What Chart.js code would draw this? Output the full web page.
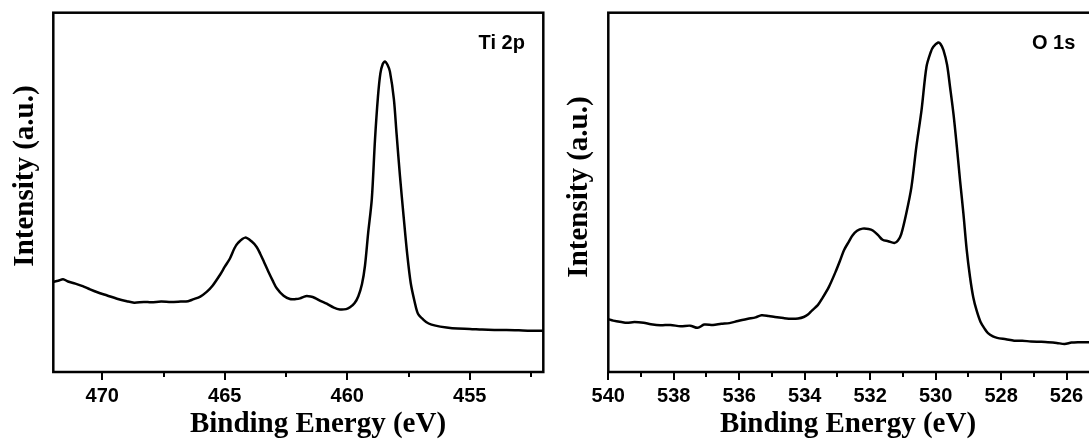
<!DOCTYPE html>
<html>
<head>
<meta charset="utf-8">
<script src="https://cdn.jsdelivr.net/npm/chart.js@4.4.0/dist/chart.umd.min.js"></script>
<style>
  html, body { margin: 0; padding: 0; background: #fff; overflow: hidden; }
  body { width: 1089px; height: 441px; position: relative; }
  .panel { position: absolute; top: 0; height: 441px; }
  #left { left: 0; width: 560px; }
  #right { left: 560px; width: 590px; }
</style>
</head>
<body>
<div class="panel" id="left"><canvas id="tiChart"></canvas></div>
<div class="panel" id="right"><canvas id="oChart"></canvas></div>
<script>
// Ti 2p spectrum (binding energy eV, intensity a.u.)
var tiEnergy = [472.0, 471.8, 471.6, 471.4, 471.1, 470.8, 470.5, 470.2, 469.8, 469.4,
  469.0, 468.7, 468.3, 468.0, 467.6, 467.2, 466.8, 466.5, 466.3, 466.0,
  465.74, 465.5, 465.2, 465.0, 464.79, 464.6, 464.45, 464.17, 463.9, 463.7,
  463.56, 463.4, 463.22, 463.05, 462.88, 462.6, 462.34, 462.1, 461.93, 461.7,
  461.5, 461.32, 461.1, 460.84, 460.55, 460.3, 460.05, 459.89, 459.7, 459.55,
  459.4, 459.28, 459.15, 459.0, 458.87, 458.75, 458.65, 458.55, 458.46, 458.36,
  458.26, 458.1, 457.99, 457.85, 457.7, 457.55, 457.41, 457.25, 457.12, 456.9,
  456.68, 456.4, 455.95, 455.5, 455.0, 454.5, 454.0, 453.5, 453.0, 452.5, 452.0];
var tiIntensity = [25.1, 25.4, 25.8, 25.2, 24.6, 23.9, 23.0, 22.2, 21.3, 20.4,
  19.7, 19.3, 19.5, 19.4, 19.6, 19.5, 19.6, 19.7, 20.2, 21.0,
  22.3, 24.0, 27.0, 29.3, 31.6, 34.5, 36.0, 37.4, 36.3, 34.8,
  33.0, 30.6, 27.9, 25.5, 23.3, 21.2, 20.3, 20.3, 20.5, 21.1,
  21.0, 20.6, 19.8, 19.0, 17.9, 17.4, 17.5, 18.0, 19.2, 21.1,
  24.5, 29.5, 38.6, 48.1, 64.6, 76.5, 83.1, 85.8, 86.4, 85.5,
  83.6, 76.0, 66.4, 54.5, 43.2, 32.5, 24.7, 19.5, 16.3, 14.6,
  13.5, 12.9, 12.4, 12.1, 12.0, 11.8, 11.7, 11.7, 11.6, 11.5, 11.5];

// O 1s spectrum
var oEnergy = [540.0, 539.85, 539.6, 539.43, 539.2, 538.92, 538.7, 538.41, 538.1, 537.79,
  537.5, 537.27, 537.07, 536.8, 536.55, 536.3, 536.04, 535.73, 535.5, 535.32,
  535.1, 534.91, 534.65, 534.39, 534.2, 534.03, 533.9, 533.78, 533.6, 533.47,
  533.26, 533.06, 532.92, 532.8, 532.65, 532.54, 532.4, 532.23, 532.05, 531.92,
  531.75, 531.62, 531.45, 531.26, 531.15, 531.05, 530.9, 530.74, 530.59, 530.43,
  530.28, 530.15, 530.07, 529.92, 529.85, 529.76, 529.65, 529.56, 529.45, 529.35,
  529.25, 529.15, 529.05, 528.95, 528.85, 528.75, 528.63, 528.5, 528.4, 528.25,
  528.12, 527.85, 527.6, 527.35, 527.09, 526.8, 526.57, 526.3, 526.06, 525.85,
  525.65, 525.36, 525.0, 524.5, 524.0];
var oIntensity = [14.7, 14.3, 13.9, 13.7, 13.9, 13.7, 13.3, 13.0, 13.1, 12.7,
  12.9, 12.3, 13.2, 13.1, 13.4, 13.6, 14.2, 14.8, 15.2, 15.8,
  15.6, 15.3, 15.0, 14.8, 14.9, 15.3, 16.0, 17.1, 18.6, 20.4,
  23.7, 27.8, 31.0, 33.9, 36.3, 38.0, 39.3, 39.9, 39.8, 39.4,
  38.0, 36.8, 36.4, 35.9, 36.6, 38.4, 44.0, 51.4, 62.6, 72.9,
  84.9, 89.0, 90.5, 91.7, 91.3, 89.6, 85.5, 79.4, 71.5, 62.6,
  53.0, 44.0, 34.0, 26.5, 20.8, 17.2, 14.0, 12.0, 10.8, 9.9,
  9.5, 9.1, 8.7, 8.7, 8.5, 8.4, 8.3, 8.1, 7.8, 8.2,
  8.3, 8.3, 8.3, 8.2, 8.2];

// tick values
var tiMajorTicks = [455, 460, 465, 470];
var tiMinorTicks = [452.5, 457.5, 462.5, 467.5];
var oMajorTicks = [526, 528, 530, 532, 534, 536, 538, 540];
var oMinorTicks = [525, 527, 529, 531, 533, 535, 537, 539];

function toPoints(xs, ys) {
  var pts = [];
  for (var i in xs) pts.push({x: xs[i], y: ys[i]});
  return pts;
}

// draws the box, tick marks, titles and the label
var framePlugin = {
  id: 'frame',
  afterDraw: function(chart, args, opts) {
    var ctx = chart.ctx;
    var a = chart.chartArea;
    var xs = chart.scales.x;
    ctx.save();
    ctx.strokeStyle = '#000';
    ctx.lineWidth = 2.5;
    ctx.strokeRect(a.left, a.top, a.right - a.left, a.bottom - a.top);

    ctx.lineWidth = 2;
    xs.ticks.forEach(function(t) {
      var px = Math.round(xs.getPixelForValue(t.value));
      var len = t.major ? 8 : 5;
      ctx.beginPath();
      ctx.moveTo(px, a.bottom);
      ctx.lineTo(px, a.bottom + len);
      ctx.stroke();
    });

    ctx.fillStyle = '#000';
    ctx.font = 'bold 29px "Liberation Serif", "Times New Roman", serif';
    ctx.textAlign = 'center';
    ctx.textBaseline = 'middle';
    ctx.fillText('Binding Energy (eV)', opts.xTitle[0], opts.xTitle[1]);

    ctx.save();
    ctx.translate(opts.yTitle[0], opts.yTitle[1]);
    ctx.rotate(-Math.PI / 2);
    ctx.fillText('Intensity (a.u.)', 0, 0);
    ctx.restore();

    ctx.font = 'bold 20px "Liberation Sans", Arial, sans-serif';
    ctx.textAlign = 'left';
    ctx.fillText(opts.label, opts.labelPos[0], opts.labelPos[1]);
    ctx.restore();
  }
};

function makeChart(id, xs, ys, xmin, xmax, major, minor, pad, yWidth, plugOpts) {
  var majorSet = {};
  major.forEach(function(v) { majorSet[v] = true; });
  return new Chart(id, {
    type: 'line',
    data: {
      datasets: [{
        data: toPoints(xs, ys),
        borderColor: '#000',
        borderWidth: 2.5,
        pointRadius: 0,
        tension: 0.3,
        fill: false
      }]
    },
    options: {
      responsive: true,
      maintainAspectRatio: false,
      animation: false,
      layout: { padding: pad },
      plugins: {
        legend: { display: false },
        tooltip: { enabled: false },
        frame: plugOpts
      },
      scales: {
        x: {
          type: 'linear',
          min: xmin,
          max: xmax,
          reverse: true,
          grid: { display: false },
          border: { display: false },
          afterBuildTicks: function(scale) {
            var vals = major.concat(minor).sort(function(a, b) { return a - b; });
            scale.ticks = vals.map(function(v) { return {value: v, major: !!majorSet[v]}; });
          },
          afterFit: function(scale) { scale.height = 69; },
          ticks: {
            autoSkip: false,
            maxRotation: 0,
            padding: 4,
            color: '#000',
            font: { family: '"Liberation Sans", Arial, sans-serif', size: 20, weight: 'bold' },
            callback: function(v) { return majorSet[v] ? String(v) : ''; }
          }
        },
        y: {
          min: 0,
          max: 100,
          grid: { display: false },
          border: { display: false },
          ticks: { display: false },
          afterFit: function(scale) { scale.width = yWidth; }
        }
      }
    },
    plugins: [framePlugin]
  });
}

makeChart('tiChart', tiEnergy, tiIntensity, 452, 472, tiMajorTicks, tiMinorTicks,
  { left: 0, right: 16.7, top: 12.7, bottom: 0 }, 53.3,
  { xTitle: [318, 425], yTitle: [25.5, 176], label: 'Ti 2p', labelPos: [478.6, 43.5] });

makeChart('oChart', oEnergy, oIntensity, 524, 540, oMajorTicks, oMinorTicks,
  { left: 0, right: 18, top: 12.7, bottom: 0 }, 48.3,
  { xTitle: [288, 425], yTitle: [20, 187], label: 'O 1s', labelPos: [472, 43] });
</script>
</body>
</html>
